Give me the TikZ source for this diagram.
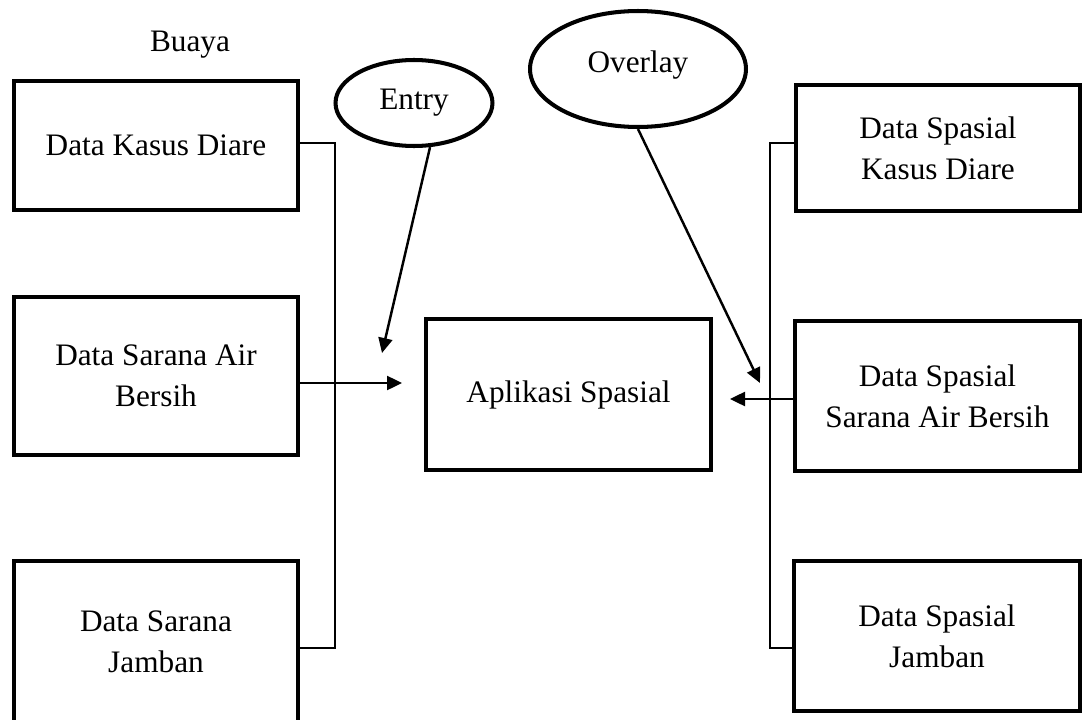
\documentclass[tikz,border=0pt]{standalone}
\usepackage{fontspec}
\setmainfont{Liberation Serif}
\usetikzlibrary{arrows.meta, shapes.geometric}

\begin{document}
\begin{tikzpicture}[x=0.02cm, y=-0.02cm, >={Triangle[length=0.3cm, width=0.28cm]},
  every node/.style={font=\fontsize{17.8}{23.3}\selectfont},
  box/.style={draw, line width=2.3pt, align=center, inner sep=0pt, minimum width=5.68cm},
  oval/.style={draw, ellipse, line width=2.3pt, inner sep=0pt},
  link/.style={line width=1.1pt},
  flow/.style={line width=1.4pt, ->}]
  \useasboundingbox (0,0) rectangle (1083,720);
  % Input data (left column)
  \node (buaya) at (190,45) {Buaya};
  \node[box, minimum height=2.58cm] (kasus) at (156,145.5) {Data Kasus Diare};
  \node[box, minimum height=3.16cm] (sab) at (156,376) {Data Sarana Air\\Bersih};
  \node[box, minimum height=3.24cm] (jamban) at (156,642) {Data Sarana\\Jamban};
  % Application
  \node[box, minimum width=5.7cm, minimum height=3.02cm] (app) at (568.5,394.5) {Aplikasi Spasial};
  % Spatial data (right column)
  \node[box, minimum height=2.52cm] (spkasus) at (938,148) {Data Spasial\\Kasus Diare};
  \node[box, minimum width=5.7cm, minimum height=3cm] (spsab) at (937.5,396) {Data Spasial\\Sarana Air Bersih};
  \node[box, minimum width=5.72cm, minimum height=3cm] (spjamban) at (937,636) {Data Spasial\\Jamban};
  % Processes
  \node[oval, minimum width=3.14cm, minimum height=1.72cm] (entry) at (414,103) {Entry};
  \node[oval, minimum width=4.32cm, minimum height=2.32cm, text depth=8pt] (overlay) at (638,69) {Overlay};
  % Bus lines and arrow ends
  \coordinate (lbustop) at (335,143);
  \coordinate (lbusbot) at (335,648);
  \coordinate (rbustop) at (770,143);
  \coordinate (rbusbot) at (770,648);
  \coordinate (intip) at (402,383);
  \coordinate (outtip) at (730,399);
  \coordinate (entrytip) at (382,353);
  \coordinate (overlaytip) at (760,383);
  \draw[link] (kasus.east |- lbustop) -- (lbustop) -- (lbusbot) -- (jamban.east |- lbusbot);
  \draw[link] (spkasus.west |- rbustop) -- (rbustop) -- (rbusbot) -- (spjamban.west |- rbusbot);
  % Arrows
  \draw[flow] (sab.east |- intip) -- (intip);
  \draw[flow] (spsab.west |- outtip) -- (outtip);
  \draw[flow] (entry.-70) -- (entrytip);
  \draw[flow] (overlay.south) -- (overlaytip);
\end{tikzpicture}
\end{document}
